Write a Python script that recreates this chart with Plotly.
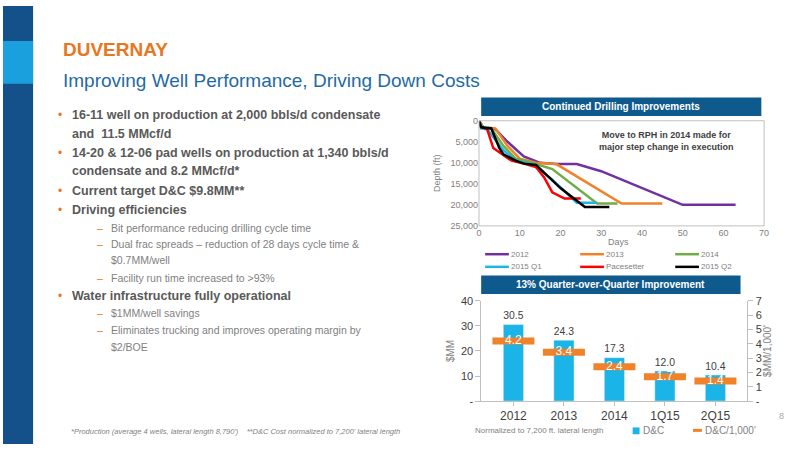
import plotly.graph_objects as go

# drilling curves (days, depth ft)
series_names = ["2012", "2013", "2014", "2015 Q1", "Pacesetter", "2015 Q2"]
series_colors = ["#7030A0", "#F0822A", "#70AD47", "#1EB4E6", "#FF0000", "#000000"]
days_2012 = [0, 1, 4, 7, 11, 15, 19, 24, 30, 40, 50, 63]
depth_2012 = [0, 1500, 2000, 5000, 8500, 10000, 10300, 10300, 12000, 16000, 20000, 20000]
days_2013 = [0, 1, 4, 7, 10, 14, 19, 35, 45]
depth_2013 = [0, 1500, 1800, 6000, 9000, 10000, 10300, 19700, 19700]
days_2014 = [0, 1, 3, 6, 9, 13, 18, 29, 34]
depth_2014 = [0, 1500, 1800, 6000, 9000, 10000, 11500, 19700, 19700]
days_q1 = [0, 0.5, 2, 6, 9, 13, 18, 24, 29]
depth_q1 = [0, 1800, 2000, 7000, 9500, 10300, 14000, 19500, 19500]
days_pace = [0, 0.5, 2, 3.5, 5, 8, 11, 14, 16, 18, 21, 25]
depth_pace = [0, 1500, 2000, 6500, 7500, 9500, 10200, 11000, 13500, 17000, 18500, 18500]
days_q2 = [0, 0.5, 2, 3, 5, 6, 9, 11, 14, 20, 26, 32]
depth_q2 = [0, 1500, 1800, 1800, 6500, 8000, 9500, 10200, 10500, 16000, 20500, 20500]
all_days = [days_2012, days_2013, days_2014, days_q1, days_pace, days_q2]
all_depth = [depth_2012, depth_2013, depth_2014, depth_q1, depth_pace, depth_q2]

# cost bars
periods = ["2012", "2013", "2014", "1Q15", "2Q15"]
dc_cost = [30.5, 24.3, 17.3, 12.0, 10.4]
dc_per_1000 = [4.2, 3.4, 2.4, 1.7, 1.4]

fig = go.Figure()
for name, col, d, z in zip(series_names, series_colors, all_days, all_depth):
    fig.add_trace(go.Scatter(x=d, y=z, name=name, mode="lines",
                             line=dict(color=col, width=2.5), xaxis="x", yaxis="y"))

fig.add_trace(go.Bar(x=periods, y=dc_cost, name="D&C", marker_color="#1AB4E8",
                     width=0.4, text=[f"{v:.1f}" for v in dc_cost], textposition="outside",
                     textfont=dict(size=13, color="#404040"), cliponaxis=False,
                     xaxis="x2", yaxis="y2"))
fig.add_trace(go.Scatter(x=periods, y=dc_per_1000, name="D&C/1,000'", mode="markers+text",
                         marker=dict(symbol="line-ew", size=30, line=dict(width=7, color="#F0822A")),
                         text=[f"{v:.1f}" for v in dc_per_1000], textposition="middle center",
                         textfont=dict(size=12, color="white"),
                         xaxis="x2", yaxis="y3"))

gray = "#7F7F7F"
fig.update_layout(
    width=800, height=450, margin=dict(l=0, r=0, t=0, b=0), showlegend=False,
    paper_bgcolor="white", plot_bgcolor="white",
    font=dict(family="Liberation Sans, Arial", color=gray),
    xaxis=dict(domain=[0.601, 0.961], range=[0, 70], dtick=10, showgrid=False,
               zeroline=False, tickfont=dict(size=9, color=gray), ticks="",
               anchor="y", showline=False),
    yaxis=dict(domain=[0.498, 0.738], range=[25000, 0], dtick=5000, tickformat=",",
               showgrid=False, zeroline=False, tickfont=dict(size=9, color=gray),
               title=dict(text="Depth (ft)", font=dict(size=9, color=gray), standoff=8),
               anchor="x"),
    xaxis2=dict(domain=[0.604, 0.94], anchor="y2", showgrid=False,
                tickfont=dict(size=12, color="#404040"), showline=True,
                linecolor="#BFBFBF", ticks="outside", tickcolor="#BFBFBF", ticklen=4),
    yaxis2=dict(domain=[0.098, 0.327], range=[0, 40], anchor="x2",
                showgrid=False, zeroline=False, tickvals=[0, 10, 20, 30, 40],
                ticktext=["-", "10", "20", "30", "40"], tickfont=dict(size=11, color="#404040"),
                showline=True, linecolor="#BFBFBF", ticks="outside", tickcolor="#BFBFBF",
                title=dict(text="$MM", font=dict(size=10, color=gray), standoff=4)),
    yaxis3=dict(range=[0, 7], overlaying="y2", side="right", anchor="x2",
                tickvals=list(range(8)), ticktext=["-", "1", "2", "3", "4", "5", "6", "7"],
                showgrid=False, zeroline=False, tickfont=dict(size=11, color="#404040"),
                showline=True, linecolor="#BFBFBF", ticks="outside", tickcolor="#BFBFBF",
                title=dict(text="$MM/1,000'", font=dict(size=10, color=gray), standoff=2)),
)

shapes = [
    dict(type="rect", xref="paper", yref="paper", x0=0, x1=0.038, y0=0, y1=1,
         fillcolor="#14508A", line_width=0, layer="below"),
    dict(type="rect", xref="paper", yref="paper", x0=0, x1=0.038, y0=1 - 80 / 450, y1=1 - 36 / 450,
         fillcolor="#1AA0DC", line_width=0, layer="below"),
    dict(type="rect", xref="paper", yref="paper", x0=0.601, x1=0.961, y0=0.498, y1=0.738,
         line=dict(color="#BFBFBF", width=1)),
    dict(type="rect", xref="paper", yref="paper", x0=483 / 800, x1=766 / 800,
         y0=1 - 113 / 450, y1=1 - 94 / 450, fillcolor="#0F5A8C", line_width=0),
    dict(type="rect", xref="paper", yref="paper", x0=483 / 800, x1=745 / 800,
         y0=1 - 296 / 450, y1=1 - 277 / 450, fillcolor="#0F5A8C", line_width=0),
]


def txt(x, y, s, size, color, bold=False, italic=False, xanchor="left"):
    if bold:
        s = f"<b>{s}</b>"
    if italic:
        s = f"<i>{s}</i>"
    fig.add_annotation(x=x / 800, y=1 - y / 450, xref="paper", yref="paper", text=s,
                       showarrow=False, xanchor=xanchor, yanchor="middle",
                       font=dict(size=size, color=color), borderpad=0)


# hand-drawn legend for drilling chart (3 columns x 2 rows)
leg_pos = [(487, 255), (583, 255), (679, 255), (487, 268), (583, 268), (679, 268)]
for (lx, ly), name, col in zip(leg_pos, series_names, series_colors):
    shapes.append(dict(type="line", xref="paper", yref="paper", x0=lx / 800, x1=(lx + 24) / 800,
                       y0=1 - ly / 450, y1=1 - ly / 450, line=dict(color=col, width=2.5)))
    txt(lx + 25, ly, name, 8, gray)

# legend for cost chart
shapes.append(dict(type="rect", xref="paper", yref="paper", x0=636 / 800, x1=643 / 800,
                   y0=1 - 440 / 450, y1=1 - 433 / 450, fillcolor="#1AB4E8", line_width=0))
txt(645, 436, "D&C", 10, gray)
shapes.append(dict(type="line", xref="paper", yref="paper", x0=697 / 800, x1=706 / 800,
                   y0=1 - 436 / 450, y1=1 - 436 / 450, line=dict(color="#F0822A", width=3)))
txt(708, 436, "D&C/1,000'", 10, gray)
fig.update_layout(shapes=shapes)

orange = "#E87722"
txt(60, 45, "DUVERNAY", 19, orange, bold=True)
txt(60, 77, "Improving Well Performance, Driving Down Costs", 19, "#1F6AA5")

main = "#595959"
sub = "#7F7F7F"
bullets = [
    (112, "16-11 well on production at 2,000 bbls/d condensate", True),
    (131, "and  11.5 MMcf/d", False),
    (151, "14-20 & 12-06 pad wells on production at 1,340 bbls/d", True),
    (170, "condensate and 8.2 MMcf/d*", False),
    (190, "Current target D&C $9.8MM**", True),
    (210, "Driving efficiencies", True),
    (298, "Water infrastructure fully operational", True),
]
for y, s, has_dot in bullets:
    if has_dot:
        txt(55, y, "•", 12, orange)
    txt(69, y, s, 12.5, main, bold=True)

subs = [
    (228, "Bit performance reducing drilling cycle time", True),
    (245, "Dual frac spreads – reduction of 28 days cycle time &", True),
    (261, "$0.7MM/well", False),
    (279, "Facility run time increased to >93%", True),
    (315, "$1MM/well savings", True),
    (333, "Eliminates trucking and improves operating margin by", True),
    (350, "$2/BOE", False),
]
for y, s, has_dash in subs:
    if has_dash:
        txt(94, y, "–", 10.5, orange)
    txt(108, y, s, 10.5, sub)

txt(68, 437, "*Production (average 4 wells, lateral length 8,790')    **D&C Cost normalized to 7,200' lateral length",
    7.5, sub, italic=True)

txt(624, 103, "Continued Drilling Improvements", 10, "white", bold=True, xanchor="center")
txt(614, 286, "13% Quarter-over-Quarter Improvement", 10, "white", bold=True, xanchor="center")
txt(601, 139, "Move to RPH in 2014 made for<br>major step change in execution", 9, "#404040", bold=True)
txt(622, 242, "Days", 9, gray, xanchor="center")
txt(476, 436, "Normalized to 7,200 ft. lateral length", 8, gray)
txt(786, 421, "8", 9, "#A6A6A6", xanchor="center")

fig.write_html("out.html", config={"displayModeBar": False},
               post_script="document.body.style.margin='0';")
